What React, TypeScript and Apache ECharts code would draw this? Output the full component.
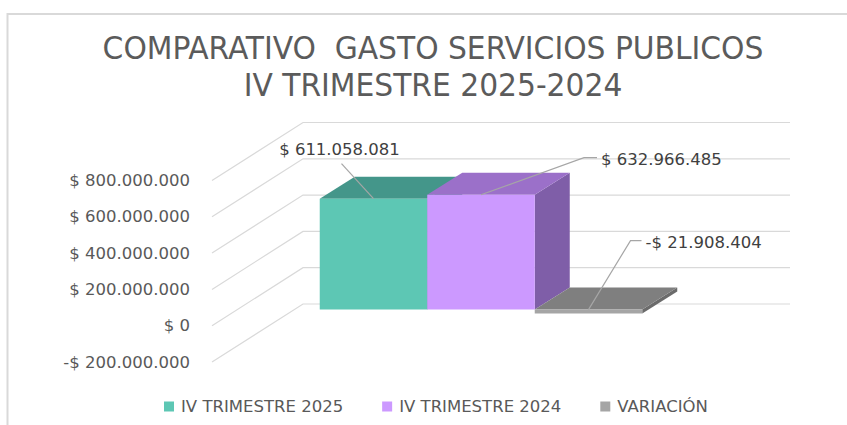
import React, { useEffect, useRef } from "react";
import * as echarts from "echarts";

// ---- data ----
const categories = ["IV TRIMESTRE 2025", "IV TRIMESTRE 2024", "VARIACIÓN"];
const values = [611058081, 632966485, -21908404];
const yTicks = [-200000000, 0, 200000000, 400000000, 600000000, 800000000];
const titleLines = ["COMPARATIVO  GASTO SERVICIOS PUBLICOS", "IV TRIMESTRE 2025-2024"];

// ---- styles / geometry ----
const faceColors = [
  { front: "#5DC7B4", top: "#44968A", side: "#3C8578" },
  { front: "#CC99FF", top: "#9B70C9", side: "#7F5EA8" },
  { front: "#A5A5A5", top: "#7F7F7F", side: "#6B6B6B" },
];
const legendColors = ["#5DC7B4", "#CC99FF", "#A5A5A5"];
const X_MIN = -0.765;
const X_MAX = 3.765;
const WALL_DX = 91;
const WALL_DY = -58;
const BAR_DX = 25.5;
const BAR_DY = -16.1;
const DEPTH_DX = 35;
const DEPTH_DY = -22;
const labelLayouts = [
  { tx: -34, ty: -49, align: "center", leader: [[-32, -35], [0, 0]] },
  { tx: 120, ty: -35, align: "left", leader: [[116, -37], [103, -37], [0, 0]] },
  { tx: 57, ty: -67, align: "left", leader: [[53, -69], [42, -69], [0, 0]] },
];

function fmt(v: number) {
  const s = Math.abs(Math.round(v)).toString().replace(/\B(?=(\d{3})+(?!\d))/g, ".");
  return (v < 0 ? "-$ " : "$ ") + s;
}

function gridRender(params: any, api: any) {
  const v = api.value(1);
  const a = api.coord([X_MIN, v]);
  const b = api.coord([X_MAX, v]);
  return {
    type: "polyline",
    silent: true,
    shape: {
      points: [
        [a[0], a[1]],
        [a[0] + WALL_DX, a[1] + WALL_DY],
        [b[0] + WALL_DX, b[1] + WALL_DY],
      ],
    },
    style: { stroke: "#D9D9D9", lineWidth: 1.2, fill: null },
  };
}

function makeBarRender(k: number) {
  return function (params: any, api: any) {
    const i = api.value(0);
    const v = api.value(1);
    const p0 = api.coord([i, 0]);
    const p1 = api.coord([i + 1, v]);
    const x0 = p0[0] + BAR_DX;
    const x1 = p1[0] + BAR_DX;
    const yz = p0[1] + BAR_DY;
    const yv = p1[1] + BAR_DY;
    const yTop = Math.min(yz, yv);
    const yBot = Math.max(yz, yv);
    const c = faceColors[k];
    const L = labelLayouts[k];
    const ax = (x0 + x1) / 2;
    const ay = yTop;
    return {
      type: "group",
      children: [
        {
          type: "polygon",
          shape: {
            points: [
              [x1, yTop],
              [x1 + DEPTH_DX, yTop + DEPTH_DY],
              [x1 + DEPTH_DX, yBot + DEPTH_DY],
              [x1, yBot],
            ],
          },
          style: { fill: c.side },
        },
        {
          type: "polygon",
          shape: {
            points: [
              [x0, yTop],
              [x1, yTop],
              [x1 + DEPTH_DX, yTop + DEPTH_DY],
              [x0 + DEPTH_DX, yTop + DEPTH_DY],
            ],
          },
          style: { fill: c.top },
        },
        {
          type: "rect",
          shape: { x: x0, y: yTop, width: x1 - x0, height: Math.max(yBot - yTop, 1) },
          style: { fill: c.front },
        },
        {
          type: "polyline",
          shape: { points: L.leader.map((p) => [ax + p[0], ay + p[1]]) },
          style: { stroke: "#A6A6A6", lineWidth: 1.2, fill: null },
        },
        {
          type: "text",
          x: ax + L.tx,
          y: ay + L.ty,
          style: {
            text: fmt(v),
            fontFamily: "DejaVu Sans",
            fontSize: 16.5,
            fill: "#404040",
            align: L.align,
            verticalAlign: "middle",
          },
        },
      ],
    };
  };
}

export default function App() {
  const ref = useRef<HTMLDivElement>(null);
  useEffect(() => {
    const chart = echarts.init(ref.current!, null, { renderer: "svg" });
    const titleStyle = {
      fontFamily: "DejaVu Sans Condensed",
      fontSize: 31.5,
      fill: "#5B5B5B",
      align: "center",
      verticalAlign: "middle",
    };
    const option: any = {
      animation: false,
      backgroundColor: "#FFFFFF",
      graphic: [
        {
          type: "rect",
          shape: { x: 7.5, y: 14, width: 900, height: 600 },
          style: { fill: null, stroke: "#D9D9D9", lineWidth: 2 },
          silent: true,
        },
        { type: "text", x: 433, y: 48.3, scaleX: 1.05, style: { ...titleStyle, text: titleLines[0] } },
        { type: "text", x: 433, y: 85.2, scaleX: 1.05, style: { ...titleStyle, text: titleLines[1] } },
      ],
      grid: { left: 212, top: 180.5, width: 487, height: 181.5, containLabel: false },
      xAxis: { type: "value", min: X_MIN, max: X_MAX, show: false },
      yAxis: {
        type: "value",
        min: -200000000,
        max: 800000000,
        interval: 200000000,
        axisLine: { show: false },
        axisTick: { show: false },
        splitLine: { show: false },
        axisLabel: {
          margin: 22,
          formatter: (v: number) => fmt(v),
          fontFamily: "DejaVu Sans",
          fontSize: 16.5,
          color: "#595959",
        },
      },
      legend: {
        data: categories,
        left: 159,
        top: 393,
        icon: "rect",
        itemWidth: 10,
        itemHeight: 10,
        itemGap: 39,
        textStyle: {
          fontFamily: "DejaVu Sans",
          fontSize: 16.5,
          color: "#595959",
          padding: [0, 0, 0, 2],
        },
      },
      series: [
        {
          type: "custom",
          name: "grid3d",
          silent: true,
          clip: false,
          z: 1,
          renderItem: gridRender,
          data: yTicks.map((t) => [X_MIN, t]),
        },
        ...categories.map((name, k) => ({
          type: "custom",
          name,
          clip: false,
          z: 2 + k,
          itemStyle: { color: legendColors[k] },
          renderItem: makeBarRender(k),
          data: [[k, values[k]]],
        })),
      ],
    };
    chart.setOption(option);
    return () => chart.dispose();
  }, []);
  return (
    <div
      ref={ref}
      style={{ position: "absolute", left: 0, top: 0, width: 847, height: 425, background: "#fff" }}
    />
  );
}
